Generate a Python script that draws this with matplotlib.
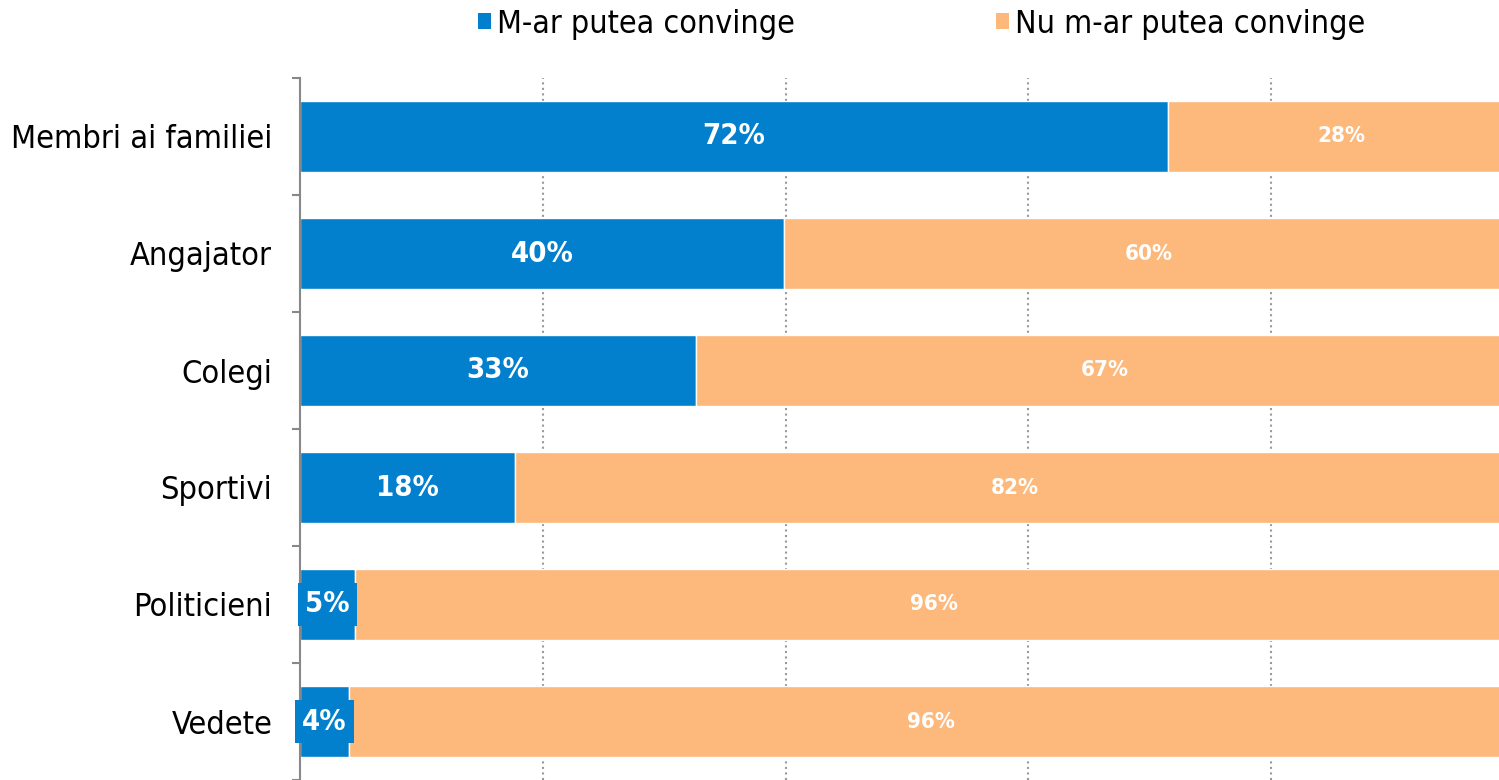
import matplotlib
matplotlib.use("Agg")
import matplotlib.pyplot as plt
from matplotlib.patches import Patch
import numpy as np

categories = ['Membri ai familiei', 'Angajator', 'Colegi', 'Sportivi', 'Politicieni', 'Vedete']
yesValues = [71.5, 39.9, 32.6, 17.7, 4.5, 4.0]
noValues = [28.5, 60.1, 67.4, 82.3, 95.5, 96.0]
yesLabels = ['72%', '40%', '33%', '18%', '5%', '4%']
noLabels = ['28%', '60%', '67%', '82%', '96%', '96%']
seriesNames = ['M-ar putea convinge', 'Nu m-ar putea convinge']
colors = ['#0380cd', '#fdb87b']

plt.rcParams['font.family'] = ['DejaVu Sans']
plt.rcParams['font.stretch'] = 'condensed'

fig = plt.figure(figsize=(14.99, 7.80), dpi=100)
ax = fig.add_axes([300/1499, 0.0, 1214/1499, 702/780])

y = np.arange(len(categories))
ax.barh(y, yesValues, height=0.61, color=colors[0], edgecolor='white', linewidth=1.0, zorder=2)
ax.barh(y, noValues, left=yesValues, height=0.61, color=colors[1], edgecolor='white', linewidth=1.0, zorder=2)

for i in range(len(categories)):
  xc = yesValues[i] / 2
  if yesValues[i] < 8:
    ax.text(xc, y[i], yesLabels[i], ha='center', va='center', color='white', fontsize=21, fontweight='bold', zorder=4,
            bbox=dict(boxstyle='square,pad=0.25', facecolor=colors[0], edgecolor='none'))
  else:
    ax.text(xc, y[i], yesLabels[i], ha='center', va='center', color='white', fontsize=21, fontweight='bold', zorder=4)
  ax.text(yesValues[i] + noValues[i] / 2, y[i], noLabels[i], ha='center', va='center', color='white', fontsize=16, fontweight='bold', zorder=4)

ax.set_xlim(0, 100)
ax.set_ylim(len(categories) - 0.5, -0.5)
ax.set_yticks(y)
ax.set_yticklabels(categories, fontsize=23.3)
ax.set_yticks(np.arange(-0.5, len(categories), 1), minor=True)
ax.tick_params(axis='y', which='major', length=0, pad=20)
ax.tick_params(axis='y', which='minor', length=6, width=1.5, color='#888888')
ax.set_xticks([20, 40, 60, 80])
ax.tick_params(axis='x', length=0, labelbottom=False)
ax.grid(axis='x', linestyle=':', color='#999999', linewidth=1.5)
ax.set_axisbelow(True)

for s in ['top', 'right', 'bottom']:
  ax.spines[s].set_visible(False)
ax.spines['left'].set_color('#888888')
ax.spines['left'].set_linewidth(1.5)

handles = [Patch(facecolor=colors[0]), Patch(facecolor=colors[1])]
fig.legend(handles, seriesNames, loc='center', bbox_to_anchor=(0.615, 0.969), ncol=2, frameon=False,
           fontsize=23, handlelength=0.4, handleheight=0.4, handletextpad=0.2, columnspacing=6.3)

plt.savefig('out.png', dpi=100)
